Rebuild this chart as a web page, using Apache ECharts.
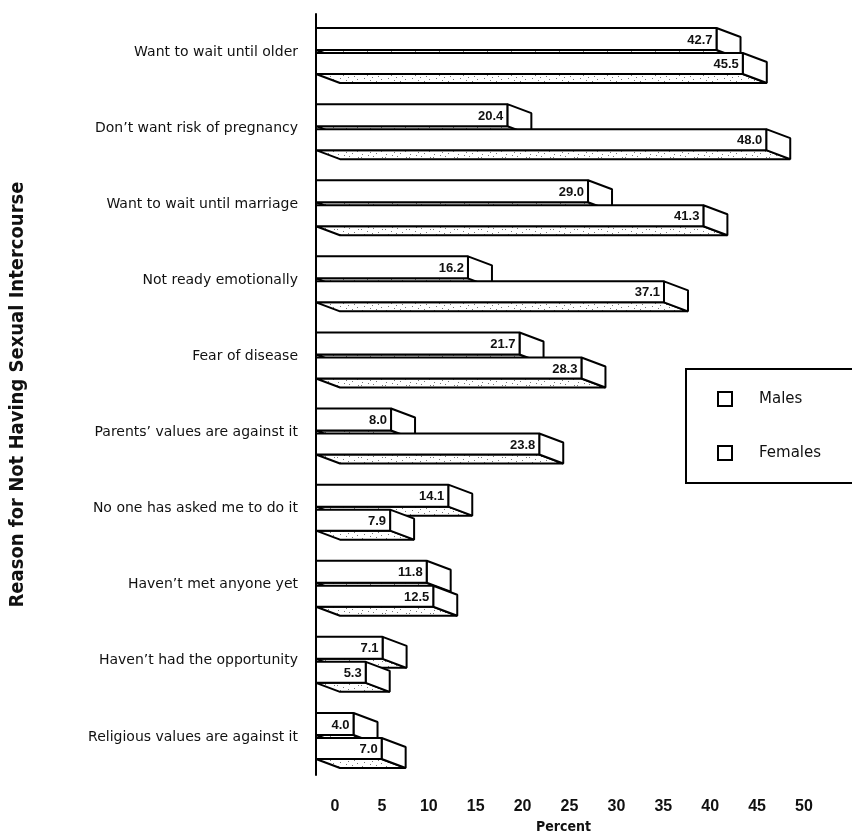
<!DOCTYPE html>
<html>
<head>
<meta charset="utf-8">
<script src="https://cdn.jsdelivr.net/npm/echarts@6/dist/echarts.min.js"></script>
<style>
  html, body { margin: 0; padding: 0; background: #fff; }
  #chart { width: 852px; height: 840px; }
</style>
</head>
<body>
<div id="chart"></div>
<script>
// Reasons given for not having sexual intercourse, by sex (percent)
const categories = [
  'Want to wait until older',
  'Don\u2019t want risk of pregnancy',
  'Want to wait until marriage',
  'Not ready emotionally',
  'Fear of disease',
  'Parents\u2019 values are against it',
  'No one has asked me to do it',
  'Haven\u2019t met anyone yet',
  'Haven\u2019t had the opportunity',
  'Religious values are against it'
];
const males   = [42.7, 20.4, 29.0, 16.2, 21.7, 8.0, 14.1, 11.8, 7.1, 4.0];
const females = [45.5, 48.0, 41.3, 37.1, 28.3, 23.8, 7.9, 12.5, 5.3, 7.0];
const xTickLabels = ['0', '5', '10', '15', '20', '25', '30', '35', '40', '45', '50'];

const FONT = '"DejaVu Sans", "Liberation Sans", Arial, sans-serif';
const BOLD = '"Liberation Sans", Arial, sans-serif';
const CONDENSED = '"DejaVu Sans Condensed", "Liberation Sans Narrow", Arial, sans-serif';

// Speckled fill for the shaded underside of each block
function makeSpeckle() {
  const c = document.createElement('canvas');
  c.width = 24; c.height = 12;
  const ctx = c.getContext('2d');
  ctx.fillStyle = '#fff';
  ctx.fillRect(0, 0, 24, 12);
  ctx.fillStyle = '#777';
  const dots = [[1,1],[7,3],[13,0],[18,4],[4,6],[10,8],[16,9],[21,7],[2,10],[12,5],[22,1],[8,11]];
  dots.forEach(function (d) { ctx.fillRect(d[0], d[1], 1, 1); });
  return c;
}
const undersideFill = { image: makeSpeckle(), repeat: 'repeat' };

const DX = 24, DY = 9;   // extrusion of the blocks (down and to the right)

// Draws one block: underside, right end, front face and its value label
function blockRenderer(topOffset, height) {
  return function (params, api) {
    const v = api.value(0);
    const idx = api.value(1);
    const p0 = api.coord([0, idx]);
    const p1 = api.coord([v, idx]);
    const x0 = p0[0], x1 = p1[0];
    const t = p0[1] + topOffset;
    const b = t + height;
    const stroke = { stroke: '#000', lineWidth: 2, lineJoin: 'bevel' };
    return {
      type: 'group',
      children: [
        {
          type: 'polygon',
          shape: { points: [[x0, b], [x1, b], [x1 + DX, b + DY], [x0 + DX, b + DY]] },
          style: Object.assign({ fill: undersideFill }, stroke)
        },
        {
          type: 'polygon',
          shape: { points: [[x1, t], [x1 + DX, t + DY], [x1 + DX, b + DY], [x1, b]] },
          style: Object.assign({ fill: '#fff' }, stroke)
        },
        {
          type: 'rect',
          shape: { x: x0, y: t, width: x1 - x0, height: height },
          style: Object.assign({ fill: '#fff' }, stroke)
        },
        {
          type: 'text',
          style: {
            text: v.toFixed(1),
            x: x1 - 4,
            y: t + height / 2 + 1,
            align: 'right',
            verticalAlign: 'middle',
            font: 'bold 13px ' + BOLD,
            fill: '#111'
          }
        }
      ]
    };
  };
}

const chart = echarts.init(document.getElementById('chart'), null, { renderer: 'canvas' });

chart.setOption({
  backgroundColor: '#fff',
  animation: false,
  grid: { left: 316, right: 67, top: 14, bottom: 65, containLabel: false },
  xAxis: {
    type: 'value',
    min: 0,
    max: 50,
    interval: 5,
    axisLine: { show: false },
    axisTick: { show: false },
    splitLine: { show: false },
    axisLabel: {
      margin: 24,
      padding: [0, 0, 0, 38],
      color: '#111',
      fontFamily: BOLD,
      fontWeight: 'bold',
      fontSize: 16,
      formatter: function (val) { return xTickLabels[Math.round(val / 5)]; }
    },
    name: 'Percent',
    nameLocation: 'middle',
    nameGap: 45,
    nameTextStyle: { color: '#111', fontFamily: CONDENSED, fontWeight: 'bold', fontSize: 14, padding: [0, 0, 0, 26] }
  },
  yAxis: {
    type: 'category',
    data: categories,
    inverse: true,
    axisLine: { show: true, lineStyle: { color: '#000', width: 2 } },
    axisTick: { show: false },
    splitLine: { show: false },
    axisLabel: { margin: 18, color: '#111', fontFamily: FONT, fontSize: 14 },
    name: 'Reason for Not Having Sexual Intercourse',
    nameLocation: 'middle',
    nameRotate: 90,
    nameGap: 288,
    nameTextStyle: { color: '#111', fontFamily: CONDENSED, fontWeight: 'bold', fontSize: 20 }
  },
  legend: {
    orient: 'vertical',
    left: 686,
    top: 369,
    data: ['Males', 'Females'],
    icon: 'rect',
    itemWidth: 14,
    itemHeight: 14,
    itemGap: 38,
    padding: [22, 120, 22, 31],
    borderColor: '#000',
    borderWidth: 2,
    backgroundColor: '#fff',
    itemStyle: { color: '#fff', borderColor: '#000', borderWidth: 2 },
    textStyle: { color: '#111', fontFamily: FONT, fontSize: 15, padding: [0, 0, 0, 22] }
  },
  series: [
    {
      name: 'Males',
      type: 'custom',
      clip: false,
      z: 2,
      itemStyle: { color: '#fff', borderColor: '#000' },
      encode: { x: 0, y: 1 },
      data: males.map(function (v, i) { return [v, i]; }),
      renderItem: blockRenderer(-24, 22)
    },
    {
      name: 'Females',
      type: 'custom',
      clip: false,
      z: 3,
      itemStyle: { color: '#fff', borderColor: '#000' },
      encode: { x: 0, y: 1 },
      data: females.map(function (v, i) { return [v, i]; }),
      renderItem: blockRenderer(1, 21)
    }
  ]
});
</script>
</body>
</html>
